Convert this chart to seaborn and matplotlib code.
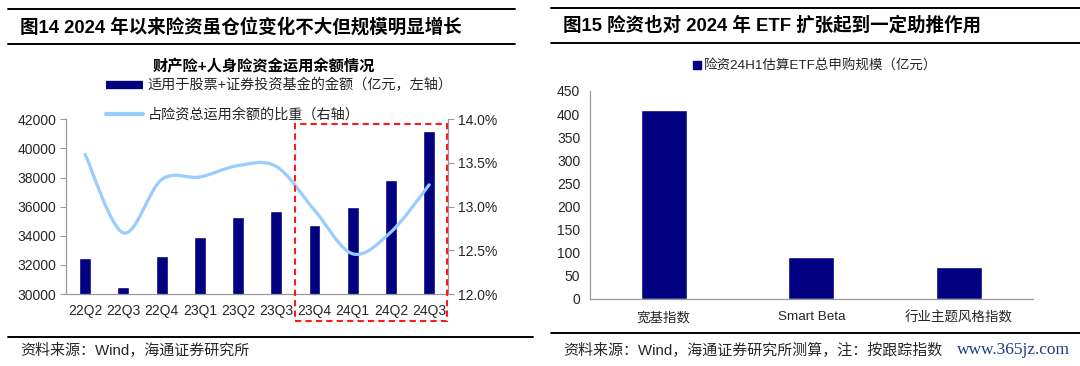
import numpy as np
import matplotlib
matplotlib.use('Agg')
import matplotlib.pyplot as plt
import seaborn as sns
from matplotlib.path import Path
from matplotlib.patches import PathPatch, Rectangle
from matplotlib.lines import Line2D
from matplotlib.ticker import FuncFormatter

# left chart data
quarters = ['22Q2', '22Q3', '22Q4', '23Q1', '23Q2', '23Q3', '23Q4', '24Q1', '24Q2', '24Q3']
equity_amount = [32470, 30460, 32590, 33920, 35310, 35720, 34760, 36000, 37830, 41200]
equity_share = [13.60, 12.70, 13.31, 13.34, 13.47, 13.46, 12.96, 12.46, 12.71, 13.25]

# right chart data
etf_types = ['宽基指数', 'Smart Beta', '行业主题风格指数']
etf_subscription = [408, 91.5, 68.5]

NAVY = '#000080'
LIGHT = '#99ccff'
GREY = '#9a9a9a'
TXT = '#262626'

sns.set_style('white')
plt.rcParams['font.family'] = ['Liberation Sans', 'Noto Sans CJK SC', 'DejaVu Sans']
plt.rcParams['axes.unicode_minus'] = False


def smooth_path(xs, ys):
    """Excel-like smoothed line: Catmull-Rom converted to cubic Bezier."""
    pts = np.column_stack([xs, ys]).astype(float)
    n = len(pts)
    verts = [pts[0]]
    codes = [Path.MOVETO]
    for i in range(n - 1):
        p0 = pts[max(i - 1, 0)]
        p1 = pts[i]
        p2 = pts[i + 1]
        p3 = pts[min(i + 2, n - 1)]
        verts += [p1 + (p2 - p0) / 6, p2 - (p3 - p1) / 6, p2]
        codes += [Path.CURVE4] * 3
    return Path(verts, codes)


def fx(px):
    return px / 1080


def fy(px):
    return 1 - px / 366


fig = plt.figure(figsize=(10.8, 3.66), dpi=100)

# ---------------- left panel ----------------
ax1 = fig.add_axes([fx(66), fy(294), fx(448.3) - fx(66), fy(119.3) - fy(294)])
sns.barplot(x=quarters, y=equity_amount, ax=ax1, color=NAVY, width=0.31, saturation=1)
ax1.set_ylim(30000, 42000)
ax1.set_yticks(range(30000, 42001, 2000))
ax1.set_xlim(-0.5, len(quarters) - 0.5)
ax1.set_xlabel('')
ax1.set_ylabel('')

ax2 = ax1.twinx()
ax2.set_ylim(12, 14)
ax2.set_yticks(np.arange(12, 14.01, 0.5))
ax2.yaxis.set_major_formatter(FuncFormatter(lambda v, p: f'{v:.1f}%'))
ax2.add_patch(PathPatch(smooth_path(range(len(quarters)), equity_share),
                        facecolor='none', edgecolor=LIGHT, lw=2.3,
                        transform=ax2.transData, capstyle='round'))

for ax in (ax1, ax2):
    for s in ax.spines.values():
        s.set_color(GREY)
        s.set_linewidth(0.9)
    ax.spines['top'].set_visible(False)
ax2.spines['left'].set_visible(False)
ax2.spines['bottom'].set_visible(False)
ax1.spines['right'].set_visible(False)

ax1.tick_params(axis='y', direction='out', length=4, color=GREY, labelsize=10, labelcolor=TXT, pad=3)
ax2.tick_params(axis='y', direction='out', length=4, color=GREY, labelsize=10, labelcolor=TXT, pad=3)
ax1.set_xticks(np.arange(-0.5, len(quarters), 1), minor=True)
ax1.tick_params(axis='x', which='major', length=0, labelsize=10, labelcolor=TXT, pad=7)
ax1.tick_params(axis='x', which='minor', direction='out', length=4, color=GREY)

fig.text(fx(264), fy(66), '财产险+人身险资金运用余额情况', ha='center', va='center',
         fontsize=11, weight='bold', color='black')
left_handles = [Line2D([], [], color=NAVY, lw=6, solid_capstyle='butt'),
                Line2D([], [], color=LIGHT, lw=3)]
left_labels = ['适用于股票+证券投资基金的金额（亿元，左轴）', '占险资总运用余额的比重（右轴）']
fig.legend(left_handles, left_labels, loc='upper left', bbox_to_anchor=(fx(106), fy(78.5)),
           frameon=False, fontsize=10.2, handlelength=2.6, handletextpad=0.35,
           labelspacing=1.05, borderpad=0, borderaxespad=0)

fig.add_artist(Rectangle((fx(294.7), fy(320.7)), fx(446.7) - fx(294.7), fy(124.3) - fy(320.7),
                         transform=fig.transFigure, fill=False, ec='#ff1a1a', lw=1.5,
                         ls=(0, (3, 2))))

# ---------------- right panel ----------------
ax3 = fig.add_axes([fx(590), fy(299), fx(1032.7) - fx(590), fy(91) - fy(299)])
sns.barplot(x=etf_types, y=etf_subscription, ax=ax3, color=NAVY, width=0.31, saturation=1)
ax3.set_ylim(0, 450)
ax3.set_yticks(range(0, 451, 50))
ax3.set_xlim(-0.5, len(etf_types) - 0.5)
ax3.set_xlabel('')
ax3.set_ylabel('')
for s in ax3.spines.values():
    s.set_color(GREY)
    s.set_linewidth(0.9)
ax3.spines['top'].set_visible(False)
ax3.spines['right'].set_visible(False)
ax3.tick_params(axis='y', direction='out', length=4, color=GREY, labelsize=10, labelcolor=TXT, pad=3)
ax3.set_xticks(np.arange(-0.5, len(etf_types), 1), minor=True)
ax3.tick_params(axis='x', which='major', length=0, labelsize=9.7, labelcolor=TXT, pad=9)
ax3.tick_params(axis='x', which='minor', direction='out', length=4, color=GREY)

fig.legend([Line2D([], [], color=NAVY, marker='s', ls='none', markersize=6)],
           ['险资24H1估算ETF总申购规模（亿元）'], loc='center', bbox_to_anchor=(fx(815), fy(66)),
           frameon=False, fontsize=9.7, handlelength=0.7, handletextpad=0.15,
           borderpad=0, borderaxespad=0)

# ---------------- titles, rules, footnotes ----------------
for x0, x1, y in [(8, 515, 9), (8, 515, 44), (8, 533, 336.7),
                  (551, 1080, 8), (551, 1080, 43), (551, 1080, 333)]:
    fig.add_artist(Line2D([fx(x0), fx(x1)], [fy(y), fy(y)], color='black', lw=1.4,
                          transform=fig.transFigure))

fig.text(fx(20), fy(27), '图14 2024 年以来险资虽仓位变化不大但规模明显增长',
         fontsize=13.3, weight='bold', va='center', color='black')
fig.text(fx(563), fy(25), '图15 险资也对 2024 年 ETF 扩张起到一定助推作用',
         fontsize=13.3, weight='bold', va='center', color='black')
fig.text(fx(20), fy(351), '资料来源：Wind，海通证券研究所', fontsize=10.8, va='center', color=TXT)
fig.text(fx(563), fy(350), '资料来源：Wind，海通证券研究所测算，注：按跟踪指数',
         fontsize=10.8, va='center', color=TXT)
fig.text(fx(957), fy(350), 'www.365jz.com', fontsize=12.5, va='center', color='#1f3a8a',
         family='Liberation Serif')

fig.savefig('out.png', dpi=100, facecolor='white')
